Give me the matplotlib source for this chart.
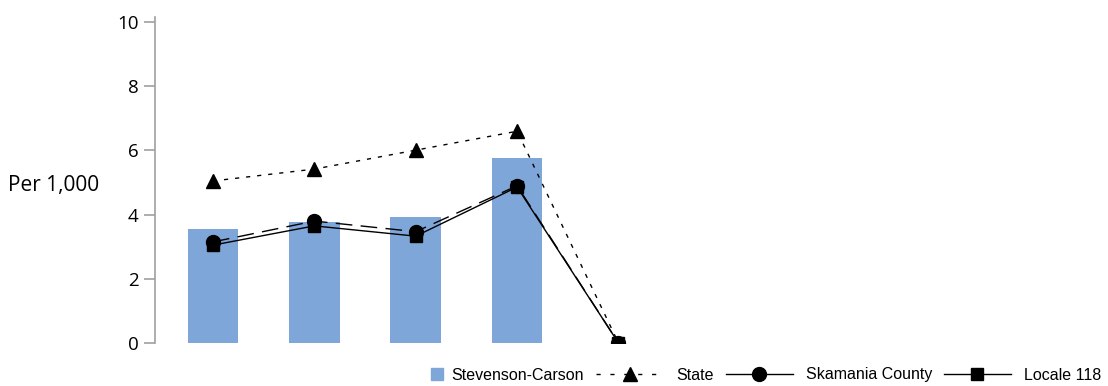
import numpy as np
import matplotlib.pyplot as plt
from matplotlib.lines import Line2D
from matplotlib.patches import Patch

plt.rcParams['font.family'] = ['Open Sans', 'DejaVu Sans']

# data (per 1,000)
categories = ["1", "2", "3", "4", "5"]
stevenson = [3.55, 3.77, 3.93, 5.76]
state = [5.05, 5.42, 6.01, 6.6, 0]
skamania = [3.15, 3.8, 3.47, 4.9, 0]
locale = [3.05, 3.65, 3.33, 4.86, 0]

x = np.arange(len(categories))
bar_color = '#7ea6d8'

fig = plt.figure(figsize=(11.08, 3.86), dpi=100)
ax = fig.add_axes([155/1108, 43/386, 945/1108, 326/386])

ax.bar(x[:len(stevenson)], stevenson, width=0.5, color=bar_color, zorder=1)
ax.plot(x, state, color='black', lw=1, ls=(0, (3, 5)), marker='^', ms=10, zorder=3)
ax.plot(x, skamania, color='black', lw=1, ls=(0, (12, 6)), marker='o', ms=10, zorder=3)
ax.plot(x, locale, color='black', lw=1, ls='-', marker='s', ms=9, zorder=4)

ax.set_xlim(-0.572, 8.75)
ax.set_ylim(0, 10.16)
ax.set_yticks([0, 2, 4, 6, 8, 10])
ax.set_xticks([])
for s in ['top', 'right', 'bottom']:
    ax.spines[s].set_visible(False)
ax.spines['left'].set_color('#a0a0a0')
ax.spines['left'].set_linewidth(1.2)
ax.tick_params(axis='y', color='#a0a0a0', length=8, width=1.2, labelsize=13.5, pad=4)

fig.text(8/1108, 1 - 186/386, 'Per 1,000', fontsize=15, va='center', ha='left')

# legend: bar patch on its own, then the lines
leg_font = {'family': 'Liberation Sans', 'size': 11.5}
fig.legend([Patch(color=bar_color)], ['Stevenson-Carson'], loc='center left',
           bbox_to_anchor=(431/1108, 1 - 375/386), frameon=False, prop=leg_font,
           handlelength=0.75, handleheight=0.75, handletextpad=0.5,
           borderpad=0, borderaxespad=0)
handles = [
    Line2D([], [], color='black', lw=1, ls=(0, (3, 7)), marker='^', ms=10),
    Line2D([], [], color='black', lw=1, ls='-', marker='o', ms=10),
    Line2D([], [], color='black', lw=1, ls='-', marker='s', ms=9),
]
labels = ['State', 'Skamania County', 'Locale 118']
fig.legend(handles, labels, loc='center right', bbox_to_anchor=(1101/1108, 1 - 375/386),
           ncol=3, frameon=False, prop=leg_font, handlelength=4.2, handletextpad=0.8,
           columnspacing=0.75, borderpad=0, borderaxespad=0)

fig.savefig('out.png', dpi=100)
